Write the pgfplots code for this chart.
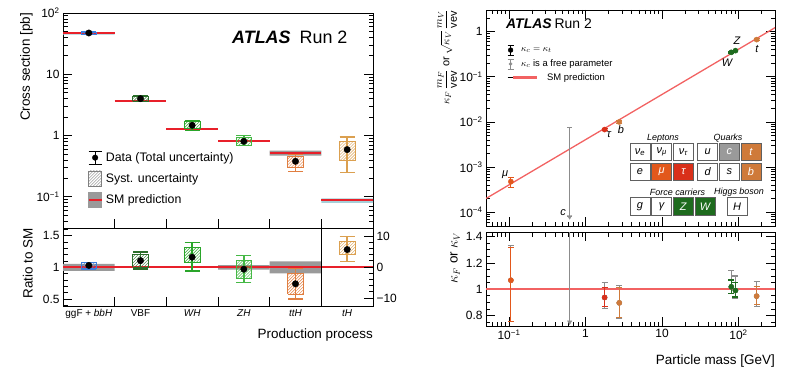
\documentclass[border=0pt]{standalone}
\usepackage{fontspec}
\setmainfont{Liberation Sans}
\usepackage{pgfplots}
\pgfplotsset{compat=1.18}
\usetikzlibrary{patterns}
\definecolor{cggf}{HTML}{3B7DDD}
\definecolor{cvbf}{HTML}{2A6E2A}
\definecolor{cwh}{HTML}{2AA52A}
\definecolor{czh}{HTML}{45B845}
\definecolor{ctth}{HTML}{E07E40}
\definecolor{cth}{HTML}{DBA050}
\definecolor{smred}{HTML}{E8202A}
\definecolor{smgrey}{HTML}{9A9A9A}
\definecolor{smblue}{HTML}{A6CFD8}
\definecolor{smline}{HTML}{F26262}
\definecolor{cmu}{HTML}{E2581C}
\definecolor{ctau}{HTML}{D9301A}
\definecolor{cq}{HTML}{CF7A3A}
\definecolor{cv}{HTML}{1E6B1E}
\definecolor{cgr}{HTML}{8C8C8C}
\pgfplotsset{
  atlas/.style={scale only axis, axis line style={line width=0.9bp},
    tick align=inside, major tick length=9bp, minor tick length=4.5bp,
    every tick/.style={black, line width=0.7bp},
    tick label style={font=\fontsize{12}{14}\selectfont},
    label style={font=\fontsize{13.5}{16}\selectfont}},
  box/.style={forget plot, draw=#1, line width=0.8bp, pattern=north east lines, pattern color=#1},
  dat/.style={forget plot, only marks, mark=*, mark size=3.2bp, mark options={draw=black, fill=black},
    /pgfplots/error bars/y dir=both, /pgfplots/error bars/y explicit,
    /pgfplots/error bars/error mark=|,
    /pgfplots/error bars/error bar style={draw=#1, line width=1.4bp},
    /pgfplots/error bars/error mark options={draw=#1, line width=1.3bp, mark size=7.5bp}},
  pt/.style={forget plot, only marks, mark=*, mark size=2.6bp, mark options={draw=#1, fill=#1},
    /pgfplots/error bars/y dir=both, /pgfplots/error bars/y explicit,
    /pgfplots/error bars/error mark=|,
    /pgfplots/error bars/error bar style={draw=#1, line width=1.2bp},
    /pgfplots/error bars/error mark options={draw=#1, line width=1.2bp, mark size=3bp}},
}
\tikzset{pbox/.style={draw=gray!75!black, line width=0.6bp, minimum width=20bp, minimum height=17.5bp, inner sep=0pt, font=\fontsize{11}{12}\selectfont\itshape}}
\begin{document}
\begin{tikzpicture}[x=1bp,y=1bp]
\useasboundingbox (0,0) rectangle (800,375);
% ---------------- left top
\begin{axis}[atlas, at={(63bp,147bp)}, anchor=south west, width=310bp, height=215bp,
  xmin=0, xmax=6, ymode=log, ymin=0.031, ymax=100,
  xtick={1,2,3,4,5}, xticklabels={}, xtick pos=left,
  ytick={0.1,1,10,100}, yticklabels={10\textsuperscript{−1},1,10,10\textsuperscript{2}},
  minor ytick={0.04,0.05,0.06,0.07,0.08,0.09,0.2,0.3,0.4,0.5,0.6,0.7,0.8,0.9,2,3,4,5,6,7,8,9,20,30,40,50,60,70,80,90},
  ylabel={Cross section [pb]},
  ylabel style={at={(rel axis cs:-0.097,1)}, anchor=south east, inner sep=0pt},
  legend style={at={(0.07,0.37)}, anchor=north west, draw=none, fill=none,
    font=\fontsize{12.4}{14}\selectfont, row sep=6bp, column sep=2bp, nodes={inner sep=1.5bp}},
  legend cell align=left]
% SM bands and lines
\addplot[forget plot, fill=smblue, draw=none] coordinates {(0,44.3) (1,44.3) (1,48.8) (0,48.8) (0,44.3)};
\addplot[forget plot, fill=smgrey, draw=none] coordinates {(4,0.47) (5,0.47) (5,0.565) (4,0.565) (4,0.47)};
\addplot[forget plot, fill=smblue, draw=none] coordinates {(5,0.080) (6,0.080) (6,0.094) (5,0.094) (5,0.080)};
\addplot[forget plot, smred, line width=2bp] coordinates {(0,46.5) (1,46.5)};
\addplot[forget plot, smred, line width=2bp] coordinates {(1,3.6) (2,3.6)};
\addplot[forget plot, smred, line width=2bp] coordinates {(2,1.28) (3,1.28)};
\addplot[forget plot, smred, line width=2bp] coordinates {(3,0.83) (4,0.83)};
\addplot[forget plot, smred, line width=2bp] coordinates {(4,0.52) (5,0.52)};
\addplot[forget plot, smred, line width=2bp] coordinates {(5,0.088) (6,0.088)};
% syst boxes
\addplot[box=cggf] coordinates {(0.35,45.2) (0.65,45.2) (0.65,49.0) (0.35,49.0) (0.35,45.2)};
\addplot[box=cvbf] coordinates {(1.35,3.62) (1.65,3.62) (1.65,4.38) (1.35,4.38) (1.35,3.62)};
\addplot[box=cwh] coordinates {(2.35,1.33) (2.65,1.33) (2.65,1.68) (2.35,1.68) (2.35,1.33)};
\addplot[box=czh] coordinates {(3.35,0.70) (3.65,0.70) (3.65,0.92) (3.35,0.92) (3.35,0.70)};
\addplot[box=ctth] coordinates {(4.35,0.30) (4.65,0.30) (4.65,0.46) (4.35,0.46) (4.35,0.30)};
\addplot[box=cth] coordinates {(5.35,0.40) (5.65,0.40) (5.65,0.81) (5.35,0.81) (5.35,0.40)};
% data
\addplot[dat=cggf] coordinates {(0.5,47.2) += (0,2.3) -= (0,2.6)};
\addplot[dat=cvbf] coordinates {(1.5,4.0) += (0,0.5) -= (0,0.45)};
\addplot[dat=cwh] coordinates {(2.5,1.47) += (0,0.31) -= (0,0.25)};
\addplot[dat=czh] coordinates {(3.5,0.805) += (0,0.195) -= (0,0.115)};
\addplot[dat=ctth] coordinates {(4.5,0.38) += (0,0.11) -= (0,0.12)};
\addplot[dat=cth] coordinates {(5.5,0.59) += (0,0.36) -= (0,0.34)};
% legend
\addlegendimage{legend image code/.code={
  \draw[black, line width=1bp] (6.5bp,-6.5bp) -- (6.5bp,6.5bp) (0bp,6.5bp) -- (13bp,6.5bp) (0bp,-6.5bp) -- (13bp,-6.5bp);
  \fill[black] (6.5bp,0bp) circle (2.8bp);}}
\addlegendentry{Data (Total uncertainty)}
\addlegendimage{legend image code/.code={
  \draw[gray, line width=0.6bp, pattern=north east lines, pattern color=gray] (0bp,-7.5bp) rectangle (13bp,7.5bp);}}
\addlegendentry{Syst. uncertainty}
\addlegendimage{legend image code/.code={
  \fill[smgrey] (0bp,-7.5bp) rectangle (13bp,7.5bp);
  \draw[smred, line width=1.5bp] (0bp,0bp) -- (13bp,0bp);}}
\addlegendentry{SM prediction}
\end{axis}
% ---------------- left ratio
\begin{axis}[atlas, at={(63bp,69bp)}, anchor=south west, width=310bp, height=78bp,
  xmin=0, xmax=6, ymin=0.39, ymax=1.62,
  xtick={1,2,3,4,5}, xticklabels={}, xtick pos=left, ytick pos=left,
  ytick={0.5,1,1.5}, yticklabels={0.5,1,1.5},
  minor ytick={0.4,0.6,0.7,0.8,0.9,1.1,1.2,1.3,1.4,1.6},
  extra x ticks={0.5,1.5,2.5,3.5,4.5,5.5},
  extra x tick labels={ggF + \textit{bbH},VBF,\textit{WH},\textit{ZH},\textit{ttH},\textit{tH}},
  extra x tick style={major tick length=0pt, tick label style={font=\fontsize{10}{12}\selectfont}},
  ylabel={Ratio to SM},
  ylabel style={at={(rel axis cs:-0.097,1)}, anchor=south east, inner sep=0pt},
  xlabel={Production process},
  xlabel style={at={(rel axis cs:1,0)}, anchor=base east, inner sep=0pt, yshift=-32bp}]
\addplot[forget plot, fill=smgrey, draw=none] coordinates {(0,0.945) (1,0.945) (1,1.055) (0,1.055) (0,0.945)};
\addplot[forget plot, fill=smgrey, draw=none] coordinates {(3,0.965) (4,0.965) (4,1.035) (3,1.035) (3,0.965)};
\addplot[forget plot, fill=smgrey, draw=none] coordinates {(4,0.905) (5,0.905) (5,1.095) (4,1.095) (4,0.905)};
\addplot[forget plot, smred, line width=2bp] coordinates {(0,1) (6,1)};
\addplot[forget plot, black, line width=1bp] coordinates {(5,0.39) (5,1.62)};
\addplot[box=cggf] coordinates {(0.35,0.98) (0.65,0.98) (0.65,1.07) (0.35,1.07) (0.35,0.98)};
\addplot[box=cvbf] coordinates {(1.35,1.0) (1.65,1.0) (1.65,1.21) (1.35,1.21) (1.35,1.0)};
\addplot[box=cwh] coordinates {(2.35,1.07) (2.65,1.07) (2.65,1.32) (2.35,1.32) (2.35,1.07)};
\addplot[box=czh] coordinates {(3.35,0.83) (3.65,0.83) (3.65,1.115) (3.35,1.115) (3.35,0.83)};
\addplot[box=ctth] coordinates {(4.35,0.575) (4.65,0.575) (4.65,0.91) (4.35,0.91) (4.35,0.575)};
\addplot[box=cth] coordinates {(5.35,1.2) (5.65,1.2) (5.65,1.41) (5.35,1.41) (5.35,1.2)};
\addplot[dat=cggf] coordinates {(0.5,1.03) += (0,0.05) -= (0,0.06)};
\addplot[dat=cvbf] coordinates {(1.5,1.105) += (0,0.135) -= (0,0.13)};
\addplot[dat=cwh] coordinates {(2.5,1.16) += (0,0.23) -= (0,0.22)};
\addplot[dat=czh] coordinates {(3.5,0.97) += (0,0.22) -= (0,0.21)};
\addplot[dat=ctth] coordinates {(4.5,0.74) += (0,0.245) -= (0,0.24)};
\addplot[dat=cth] coordinates {(5.5,1.28) += (0,0.21) -= (0,0.19)};
\end{axis}
\begin{axis}[atlas, at={(63bp,69bp)}, anchor=south west, width=310bp, height=78bp,
  xmin=0, xmax=6, ymin=-12.6, ymax=12.6, axis y line*=right, axis x line=none,
  ytick={-10,0,10}, yticklabels={−10,0,10}, minor y tick num=4]
\addplot[forget plot, draw=none] coordinates {(0,0) (6,0)};
\end{axis}
% ---------------- right top
\begin{axis}[atlas, at={(486bp,149bp)}, anchor=south west, width=289bp, height=216bp,
  xmode=log, ymode=log, xmin=0.05, xmax=300, ymin=5e-5, ymax=3,
  xtick={0.1,1,10,100}, xticklabels={},
  minor xtick={0.06,0.07,0.08,0.09,0.2,0.3,0.4,0.5,0.6,0.7,0.8,0.9,2,3,4,5,6,7,8,9,20,30,40,50,60,70,80,90,200},
  ytick={1e-4,1e-3,1e-2,1e-1,1},
  yticklabels={10\textsuperscript{−4},10\textsuperscript{−3},10\textsuperscript{−2},10\textsuperscript{−1},1},
  minor ytick={6e-5,7e-5,8e-5,9e-5,2e-4,3e-4,4e-4,5e-4,6e-4,7e-4,8e-4,9e-4,2e-3,3e-3,4e-3,5e-3,6e-3,7e-3,8e-3,9e-3,0.02,0.03,0.04,0.05,0.06,0.07,0.08,0.09,0.2,0.3,0.4,0.5,0.6,0.7,0.8,0.9,2,3},
  ylabel={$\displaystyle\kappa_F\,\frac{m_F}{\mathrm{vev}}$ or $\displaystyle\sqrt{\kappa_V}\,\frac{m_V}{\mathrm{vev}}$},
  ylabel style={at={(rel axis cs:-0.1,1)}, anchor=south east, inner sep=0pt, font=\fontsize{11}{13}\selectfont},
  legend style={at={(0.062,0.85)}, anchor=north west, draw=none, fill=none,
    font=\fontsize{9.5}{11}\selectfont, row sep=3bp, column sep=6bp, nodes={inner sep=1bp}},
  legend cell align=left]
\addplot[forget plot, smline, line width=1.3bp] coordinates {(0.05,2.03e-4) (300,1.22)};
\addplot[forget plot, only marks, mark=triangle*, mark size=2.5bp, mark options={rotate=180, draw=cgr, fill=cgr},
  error bars/.cd, y dir=both, y explicit, error mark=|, error bar style={draw=cgr, line width=1bp}, error mark options={draw=cgr, line width=1bp, mark size=2.5bp}]
  coordinates {(0.62,8e-5) += (0,7.6e-3) -= (0,0)};
\addplot[pt=cmu] coordinates {(0.1057,4.8e-4) += (0,1.1e-4) -= (0,1.3e-4)};
\addplot[pt=ctau] coordinates {(1.777,6.8e-3) += (0,0.4e-3) -= (0,0.4e-3)};
\addplot[pt=cq] coordinates {(2.76,1.0e-2) += (0,0.8e-3) -= (0,0.8e-3) (172.5,0.664) += (0,0.03) -= (0,0.03)};
\addplot[pt=cv] coordinates {(80.4,0.347) += (0,0.01) -= (0,0.01) (91.19,0.378) += (0,0.01) -= (0,0.01)};
\addlegendimage{legend image code/.code={
  \draw[black, line width=1bp] (3bp,-5bp) -- (3bp,5bp) (0bp,5bp) -- (6bp,5bp) (0bp,-5bp) -- (6bp,-5bp);
  \fill[black] (3bp,0bp) circle (2.4bp);}}
\addlegendentry{$\kappa_c = \kappa_t$}
\addlegendimage{legend image code/.code={
  \draw[cgr, line width=0.8bp] (3bp,-5bp) -- (3bp,5bp) (0bp,5bp) -- (6bp,5bp) (0bp,-5bp) -- (6bp,-5bp);
  \fill[cgr] (3bp,0bp) circle (1.6bp);}}
\addlegendentry{$\kappa_c$ is a free parameter}
\addlegendimage{legend image code/.code={
  \path (0bp,0bp) -- (6bp,0bp);
  \fill[overlay, smline] (6bp,-0.9bp) rectangle (29bp,0.9bp);}}
\addlegendentry{\hspace*{26bp}SM prediction}
\end{axis}
% ---------------- right ratio
\begin{axis}[atlas, at={(486bp,49bp)}, anchor=south west, width=289bp, height=94bp,
  xmode=log, xmin=0.05, xmax=300, ymin=0.72, ymax=1.435,
  xtick={0.1,1,10,100}, xticklabels={10\textsuperscript{−1},1,10,10\textsuperscript{2}},
  minor xtick={0.06,0.07,0.08,0.09,0.2,0.3,0.4,0.5,0.6,0.7,0.8,0.9,2,3,4,5,6,7,8,9,20,30,40,50,60,70,80,90,200},
  ytick={0.8,1,1.2,1.4}, yticklabels={0.8,1,1.2,1.4},
  minor ytick={0.75,0.85,0.9,0.95,1.05,1.1,1.15,1.25,1.3,1.35},
  ylabel={$\kappa_F$ or $\kappa_V$},
  ylabel style={at={(rel axis cs:-0.09,1)}, anchor=south east, inner sep=0pt},
  xlabel={Particle mass [GeV]},
  xlabel style={at={(rel axis cs:1,0)}, anchor=base east, inner sep=0pt, yshift=-38bp}]
\addplot[forget plot, smline, line width=1.7bp] coordinates {(0.05,1) (300,1)};
\addplot[forget plot, only marks, mark=triangle*, mark size=2.5bp, mark options={rotate=180, draw=cgr, fill=cgr},
  error bars/.cd, y dir=both, y explicit, error mark=|, error bar style={draw=cgr, line width=1bp}, error mark options={draw=cgr, line width=1bp, mark size=0bp}]
  coordinates {(0.62,0.75) += (0,0.8) -= (0,0)};
\addplot[pt=cgr] coordinates {(0.1057,1.068) += (0,0.265) -= (0,0.311) (1.777,0.937) += (0,0.113) -= (0,0.082)
  (2.76,0.896) += (0,0.134) -= (0,0.116) (80.4,1.018) += (0,0.122) -= (0,0.053)
  (91.19,0.99) += (0,0.11) -= (0,0.06) (172.5,0.947) += (0,0.113) -= (0,0.077)};
\addplot[pt=cmu] coordinates {(0.1057,1.068) += (0,0.252) -= (0,0.311)};
\addplot[pt=ctau] coordinates {(1.777,0.937) += (0,0.073) -= (0,0.067)};
\addplot[pt=cq] coordinates {(2.76,0.896) += (0,0.114) -= (0,0.111) (172.5,0.947) += (0,0.073) -= (0,0.062)};
\addplot[pt=cv] coordinates {(80.4,1.018) += (0,0.052) -= (0,0.048) (91.19,0.99) += (0,0.06) -= (0,0.05)};
\end{axis}
% ---------------- annotations
\node[anchor=base west, inner sep=0pt] at (232,331.7) {\fontsize{18}{20}\selectfont\textbf{\textit{ATLAS}}\hspace{9bp}Run 2};
\node[anchor=base west, inner sep=0pt] at (506,346.7) {\fontsize{14}{16}\selectfont\textbf{\textit{ATLAS}}\hspace{3bp}Run 2};
\begin{scope}[font=\fontsize{11}{12}\selectfont\itshape]
\node at (505,200) {μ};
\node at (609,240) {τ};
\node at (621,245) {b};
\node at (563,162) {c};
\node at (727,312) {W};
\node at (737,334) {Z};
\node at (757,326) {t};
\end{scope}
\begin{scope}[font=\fontsize{9}{10}\selectfont\itshape]
\node at (663,237) {Leptons};
\node at (728,237) {Quarks};
\node at (677.5,182.7) {Force carriers};
\node at (739,182.7) {Higgs boson};
\end{scope}
\node[pbox] at (640,223) {ν\textsubscript{e}};
\node[pbox] at (661.7,223) {ν\textsubscript{μ}};
\node[pbox] at (683.3,223) {ν\textsubscript{τ}};
\node[pbox] at (640,203) {e};
\node[pbox, fill=cmu, text=white] at (661.7,203) {μ};
\node[pbox, fill=ctau, text=white] at (683.3,203) {τ};
\node[pbox] at (707.7,223) {u};
\node[pbox, fill=smgrey, text=white] at (729.3,223) {c};
\node[pbox, fill=cq, text=white] at (751,223) {t};
\node[pbox] at (707.7,203) {d};
\node[pbox] at (729.3,203) {s};
\node[pbox, fill=cq, text=white] at (751,203) {b};
\node[pbox] at (640,168.7) {g};
\node[pbox] at (661.7,168.7) {γ};
\node[pbox, fill=cv, text=white] at (683.3,168.7) {Z};
\node[pbox, fill=cv, text=white] at (705,168.7) {W};
\node[pbox] at (737,168.7) {H};
\end{tikzpicture}
\end{document}
